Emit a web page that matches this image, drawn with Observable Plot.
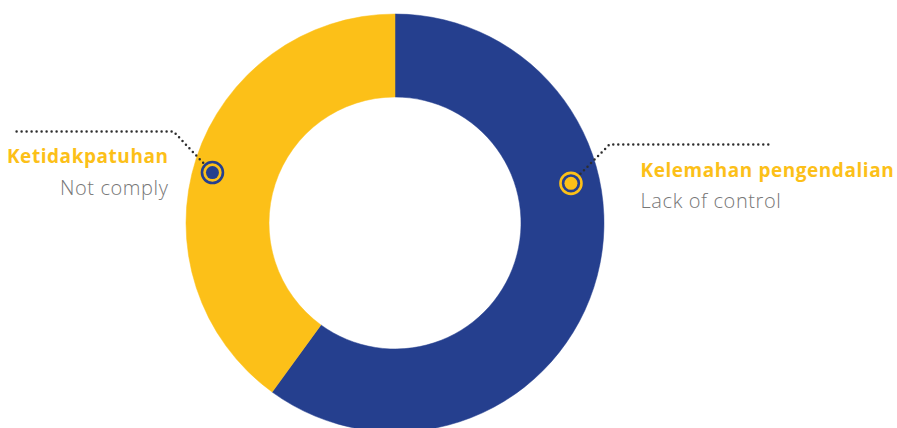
<!DOCTYPE html>
<html>
<head>
<meta charset="utf-8">
<script src="https://cdn.jsdelivr.net/npm/d3@7"></script>
<script src="https://cdn.jsdelivr.net/npm/@observablehq/plot@0.6"></script>
<style>
  html, body { margin: 0; padding: 0; background: #ffffff; }
  #chart { width: 897px; height: 428px; }
</style>
</head>
<body>
<div id="chart"></div>
<script>
// ---- data ----
const categories = ["Kelemahan pengendalian", "Ketidakpatuhan"];
const subLabels = ["Lack of control", "Not comply"];
const values = [60, 40];
const sliceColors = ["#253f8e", "#fcc018"];

// ---- layout (pixels) ----
const W = 897, H = 428;
const layout = {
  cx: 395, cy: 223, inner: 126, outer: 209,
  markers: [
    {frac: 0.357, r: 180, ring: "#fcc018", fill: "#fcc018"},
    {frac: 0.483, r: 190, ring: "#253f8e", fill: "#253f8e"}
  ],
  leaders: [
    {elbow: [609, 144], end: [769, 144], text: [640, 176], sub: [640, 207], anchor: "start"},
    {elbow: [173, 131], end: [15, 131], text: [168, 162], sub: [168, 194], anchor: "end"}
  ]
};

const pie = d3.pie().sort(null).value(d => d)(values);
const rows = categories.map((c, i) => {
  const p = pie[i];
  const m = layout.markers[i];
  const a = p.startAngle + m.frac * (p.endAngle - p.startAngle);
  const mx = layout.cx + m.r * Math.sin(a);
  const my = layout.cy - m.r * Math.cos(a);
  const L = layout.leaders[i];
  const dx = L.elbow[0] - mx, dy = L.elbow[1] - my, len = Math.hypot(dx, dy);
  const sx = mx + dx / len * 13.5, sy = my + dy / len * 13.5;
  return {category: c, sub: subLabels[i], value: values[i], color: sliceColors[i],
          mx, my, ring: m.ring, fill: m.fill,
          leader: [[sx, sy], L.elbow, L.end], L};
});

const leaderPts = rows.flatMap((r, i) => r.leader.map(p => ({x: p[0], y: p[1], k: i})));
const startRows = rows.filter(r => r.L.anchor === "start");
const endRows = rows.filter(r => r.L.anchor === "end");

const donutMark = (index, scales) => {
  const g = d3.create("svg:g");
  const arc = d3.arc().innerRadius(layout.inner).outerRadius(layout.outer);
  g.attr("transform", `translate(${scales.x(layout.cx)},${scales.y(layout.cy)})`);
  g.selectAll("path").data(pie).join("path")
    .attr("d", arc)
    .attr("fill", (d, i) => sliceColors[i])
    .attr("stroke", (d, i) => sliceColors[i])
    .attr("stroke-width", 0.5);
  return g.node();
};

const titleStyle = {fill: "#fcc018", fontSize: 19, fontWeight: 700, fontFamily: "Open Sans", lineAnchor: "bottom"};
const subStyle = {fill: "#777777", fontSize: 20, fontWeight: 300, fontFamily: "Open Sans", lineAnchor: "bottom"};

const chart = Plot.plot({
  width: W, height: H,
  margin: 0,
  x: {domain: [0, W], range: [0, W], axis: null},
  y: {domain: [0, H], range: [0, H], axis: null},
  style: {background: "#ffffff"},
  marks: [
    donutMark,
    Plot.line(leaderPts, {x: "x", y: "y", z: "k", stroke: "#2e2e2e", strokeWidth: 2.5,
      strokeDasharray: "0,5", strokeLinecap: "round", curve: "linear"}),
    Plot.dot(rows, {x: "mx", y: "my", r: 10.5, stroke: d => d.ring, strokeWidth: 2.6, fill: "none"}),
    Plot.dot(rows, {x: "mx", y: "my", r: 6.5, fill: d => d.fill, stroke: "none"}),
    Plot.text(startRows, {x: d => d.L.text[0], y: d => d.L.text[1], text: "category", textAnchor: "start", ...titleStyle}),
    Plot.text(endRows, {x: d => d.L.text[0], y: d => d.L.text[1], text: "category", textAnchor: "end", ...titleStyle}),
    Plot.text(startRows, {x: d => d.L.sub[0], y: d => d.L.sub[1], text: "sub", textAnchor: "start", ...subStyle}),
    Plot.text(endRows, {x: d => d.L.sub[0], y: d => d.L.sub[1], text: "sub", textAnchor: "end", ...subStyle})
  ]
});
const textGroups = d3.select(chart).selectAll('g[aria-label="text"]').nodes();
textGroups.forEach((g, i) => d3.select(g).style("letter-spacing", i < 2 ? "0.55px" : "0.6px"));
document.getElementById("chart").appendChild(chart);
</script>
</body>
</html>
